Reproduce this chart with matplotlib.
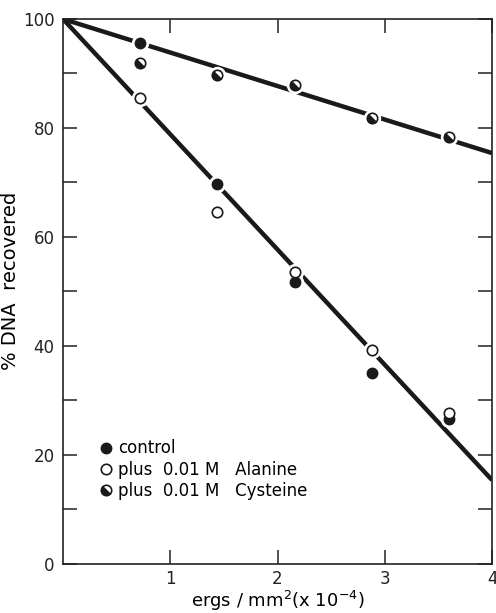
import matplotlib
matplotlib.use("Agg")
import matplotlib.pyplot as plt
from matplotlib.markers import MarkerStyle
from matplotlib.transforms import Affine2D

# dose (ergs/mm^2 x 10^-4) and % DNA recovered
dose = [0.72, 1.44, 2.16, 2.88, 3.6]
control = [95.6, 69.7, 51.8, 35.0, 26.6]
alanine = [85.5, 64.6, 53.6, 39.3, 27.7]
cysteine = [91.9, 89.7, 87.9, 81.9, 78.4]

# hand-drawn fit lines
fit_x = [0, 4]
fit_upper = [100, 75.4]
fit_lower = [100, 15.4]

fig = plt.figure(figsize=(4.96, 6.13), dpi=100)
ax = fig.add_axes([0.127, 0.080, 0.865, 0.889])

ax.plot(fit_x, fit_upper, color="#1a1a1a", lw=3.2, solid_capstyle="butt", zorder=2)
ax.plot(fit_x, fit_lower, color="#1a1a1a", lw=3.2, solid_capstyle="butt", zorder=2)

ms = 7.5
half = MarkerStyle("o", fillstyle="left", transform=Affine2D().rotate_deg(45))

# white halo so the lines break around the points
for ys in (control, alanine, cysteine):
    ax.plot(dose, ys, "o", ms=ms + 4, color="white", mec="white", zorder=3)

ax.plot(dose, control, "o", ms=ms, color="#1a1a1a", mec="#1a1a1a", zorder=4,
        label="control", ls="none")
ax.plot(dose, alanine, "o", ms=ms, mfc="white", mec="#1a1a1a", mew=1.2, zorder=5,
        label="plus  0.01 M   Alanine", ls="none")
ax.plot(dose, cysteine, ls="none", marker=half, ms=ms, mfc="#1a1a1a",
        mfcalt="white", mec="#1a1a1a", mew=1.2, zorder=4,
        label="plus  0.01 M   Cysteine")

ax.set_xlim(0, 4)
ax.set_ylim(0, 100)

ax.set_xticks([1, 2, 3, 4])
ax.set_xticklabels(["1", "2", "3", "4"])
ax.set_yticks([0, 20, 40, 60, 80, 100])
ax.set_yticks(range(10, 100, 20), minor=True)
ax.tick_params(axis="both", which="both", direction="in", length=10, width=1.1,
               top=True, right=True, labelsize=12, colors="#222222", pad=6)
ax.tick_params(axis="x", which="major", pad=4)
for sp in ax.spines.values():
    sp.set_linewidth(1.2)
    sp.set_color("#222222")

ax.set_xlabel(r"ergs / mm$^2$(x 10$^{-4}$)", fontsize=13, va="center")
ax.xaxis.set_label_coords(0.5, -0.068)
ax.set_ylabel("% DNA  recovered", fontsize=14)
ax.yaxis.set_label_coords(-0.1, 0.52)

ax.legend(loc="lower left", bbox_to_anchor=(0.07, 0.105), frameon=False,
          fontsize=12, handletextpad=0.3, labelspacing=0.2,
          handlelength=0.8, borderaxespad=0)

fig.savefig("out.png", dpi=100)
